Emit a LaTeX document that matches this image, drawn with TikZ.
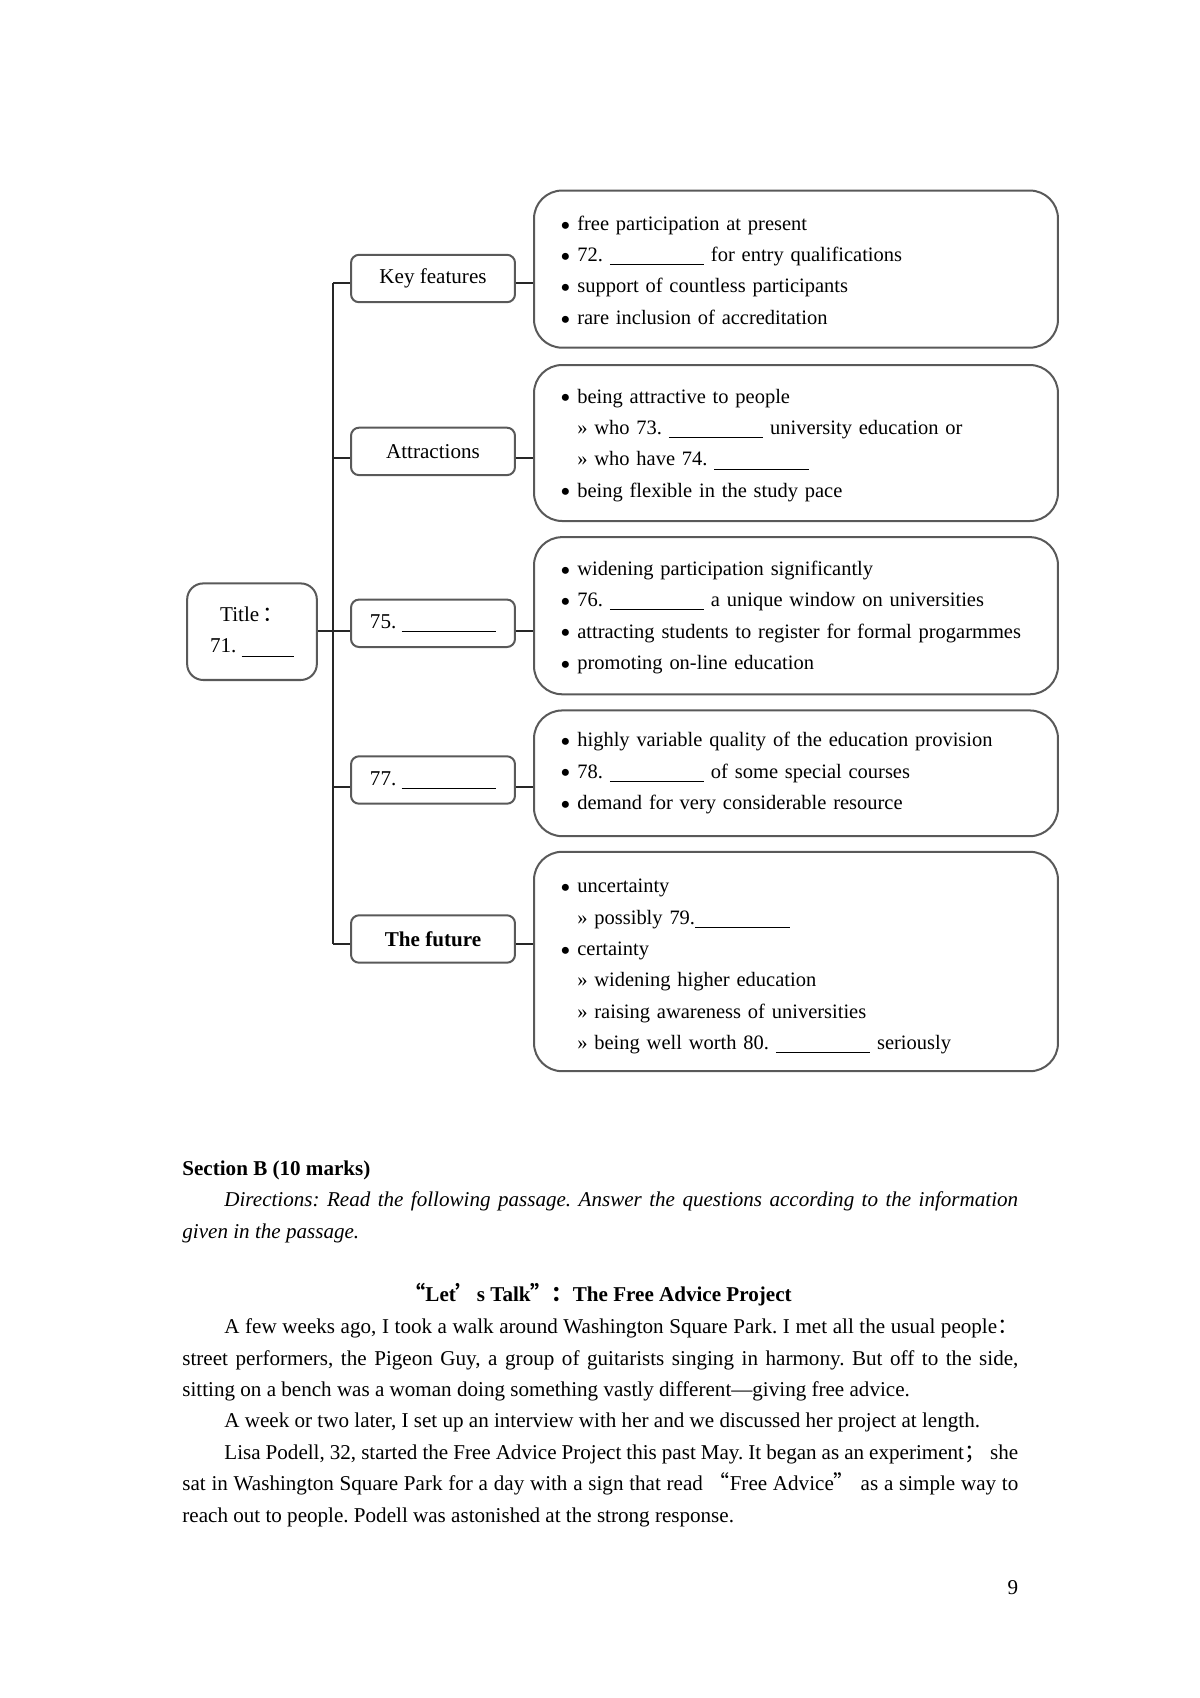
\documentclass[tikz,border=0pt]{standalone}
\usepackage{fontspec}
\setmainfont{Liberation Serif}
\newfontfamily\cjk{Noto Sans CJK SC}
\newcommand{\cj}[1]{{\cjk #1}}
\newcommand{\blank}[1][47pt]{\rule[-1.8pt]{#1}{0.45pt}}
\newcommand{\bul}{\raisebox{-2.4pt}{\fontsize{14.5}{0}\selectfont\textbullet}\ }
\newcommand{\sub}{\phantom{\bul}» }
\newcommand{\full}[2]{\makebox[#1][s]{#2}}
\tikzset{
  branch/.style={draw=black!65, line width=1pt, rounded corners=4pt,
    minimum width=2.87cm, minimum height=0.83cm, align=center},
  detail/.style={draw=black!65, line width=1pt, rounded corners=14pt,
    text width=8.25cm, inner xsep=0.46cm, align=left,
    font=\fontsize{10.2}{15.6}\selectfont\frenchspacing},
  link/.style={draw=black!85, line width=0.8pt},
  textline/.style={anchor=west, inner sep=0pt, text height=7.5pt, text depth=2.5pt}
}
\begin{document}
\begin{tikzpicture}[x=0.0175cm, y=-0.0175cm, font=\fontsize{10.5}{15.6}\selectfont\frenchspacing]
\useasboundingbox (0,0) rectangle (1200,1698);
% the chart
\node[branch, rounded corners=8pt, minimum width=2.27cm, minimum height=1.69cm] (title) at (252,631.7) {Title\,\cj{：}\\71. \blank[26pt]};
\node[branch] (b1) at (433,278.5) {Key features};
\node[branch] (b2) at (433,451.4) {Attractions};
\node[branch] (b3) at (433,623.3) {75. \blank};
\node[branch] (b4) at (433,780) {77. \blank};
\node[branch] (b5) at (433,939) {\bfseries The future};
\node[detail, minimum height=2.75cm] (d1) at (796,269.1) {
  \rule{0pt}{10.5pt}\bul free participation at present\\
  \bul 72. \blank\ for entry qualifications\\
  \bul support of countless participants\\
  \bul rare inclusion of accreditation};
\node[detail, minimum height=2.73cm] (d2) at (796,443) {
  \rule{0pt}{9.5pt}\bul being attractive to people\\
  \sub who 73. \blank\ university education or\\
  \sub who have 74. \blank\\
  \bul being flexible in the study pace};
\node[detail, minimum height=2.75cm] (d3) at (796,615.7) {
  \rule{0pt}{9pt}\bul widening participation significantly\\
  \bul 76. \blank\ a unique window on universities\\
  \bul attracting students to register for formal progarmmes\\
  \bul promoting on-line education};
\node[detail, minimum height=2.2cm] (d4) at (796,773.3) {
  \bul highly variable quality of the education provision\\
  \bul 78. \blank\ of some special courses\\
  \bul demand for very considerable resource};
\node[detail, minimum height=3.84cm] (d5) at (796,961.5) {
  \rule{0pt}{12pt}\bul uncertainty\\
  \sub possibly 79.\blank\\
  \bul certainty\\
  \sub widening higher education\\
  \sub raising awareness of universities\\
  \sub being well worth 80. \blank\ seriously};
\foreach \i/\y in {1/283,2/458,3/631,4/787,5/944} {
  \coordinate (j\i) at (333,\y);
  \draw[link] (j\i) -- (b\i.west |- j\i);
  \draw[link] (b\i.east |- j\i) -- (d\i.west |- j\i);
}
\draw[link] (j1) -- (j5);
\draw[link] (title.east |- j3) -- (j3);
% the text below
\node[textline] (sec) at (182,1170) {\bfseries Section B (10 marks)};
\node[textline] (dir1) at (224,1201.5) {\itshape\full{395.3pt}{Directions: Read the following passage. Answer the questions according to the information}};
\node[textline] (dir2) at (182,1233.5) {\itshape given in the passage.};
\node[text height=7.5pt, text depth=2.5pt, inner sep=0pt] (head) at (598,1296.5) {\bfseries\cj{“}Let\cj{’}s Talk\cj{”：}The Free Advice Project};
\node[textline] (p1) at (224,1328.5) {\full{395.3pt}{A few weeks ago, I took a walk around Washington Square Park. I met all the usual people\cj{：}}};
\node[textline] (p2) at (182,1360) {\full{416.3pt}{street performers, the Pigeon Guy, a group of guitarists singing in harmony. But off to the side,}};
\node[textline] (p3) at (182,1391.4) {sitting on a bench was a woman doing something vastly different—giving free advice.};
\node[textline] (p4) at (224,1422.8) {A week or two later, I set up an interview with her and we discussed her project at length.};
\node[textline] (p5) at (224,1454.2) {\full{395.3pt}{Lisa Podell, 32, started the Free Advice Project this past May. It began as an experiment\cj{；} she}};
\node[textline] (p6) at (182,1485.6) {\full{416.3pt}{sat in Washington Square Park for a day with a sign that read \cj{“}Free Advice\cj{”} as a simple way to}};
\node[textline] (p7) at (182,1517) {reach out to people. Podell was astonished at the strong response.};
\node (page) at (1013,1588) {9};
\end{tikzpicture}
\end{document}
